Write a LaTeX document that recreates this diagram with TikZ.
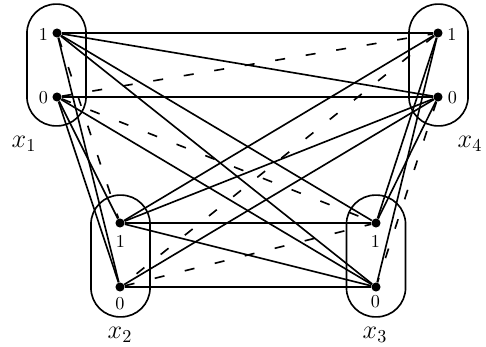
\documentclass[tikz,border=0pt]{standalone}
\begin{document}
\begin{tikzpicture}[x=0.55pt,y=-0.55pt,
  dot/.style={circle,fill,inner sep=0pt,minimum size=5pt},
  edge/.style={line width=0.9pt},
  dashedge/.style={line width=0.9pt,dash pattern=on 5.5pt off 11.5pt},
  grp/.style={draw,line width=0.9pt,rounded corners=16pt,inner sep=0pt,minimum width=32.5pt,minimum height=67pt},
  val/.style={inner sep=0pt,font=\normalsize},
  var/.style={inner sep=0pt,font=\Large}]
\useasboundingbox (0,0) rectangle (486,346);
% groups
\node[grp] (G1) at (56.5,65) {};
\node[grp] (G4) at (438.5,65) {};
\node[grp] (G2) at (120.5,256) {};
\node[grp] (G3) at (376,256) {};
% value nodes
\node[dot] (a1) at (57,33) {};
\node[dot] (a0) at (57,97) {};
\node[dot] (d1) at (438,33) {};
\node[dot] (d0) at (438,97) {};
\node[dot] (b1) at (120,223) {};
\node[dot] (b0) at (120,287) {};
\node[dot] (c1) at (376,223) {};
\node[dot] (c0) at (376,287) {};
% solid edges
\foreach \u/\v in {a1/d1,a1/d0,a0/d0,a1/b0,a0/b1,a0/b0,a1/c1,a1/c0,a0/c0,
  b1/c1,b0/c0,b1/c0,d1/b1,d0/b1,d0/b0,d1/c1,d1/c0,d0/c1}
  \draw[edge] (\u) -- (\v);
% dashed edges
\foreach \u/\v in {a0/d1,a1/b1,a0/c1,b0/c1,d1/b0,d0/c0}
  \draw[dashedge] (\u) -- (\v);
% value labels
\node[val] (la1) at (43.5,34) {1};
\node[val] (la0) at (43.5,97.5) {0};
\node[val] (ld1) at (452,34) {1};
\node[val] (ld0) at (452.5,97.5) {0};
\node[val] (lb1) at (120.5,241.5) {1};
\node[val] (lb0) at (120,304) {0};
\node[val] (lc1) at (375.5,241.5) {1};
\node[val] (lc0) at (375.5,302) {0};
% variable labels
\node[var] (x1) at (24,144) {$x_1$};
\node[var] (x4) at (470,144) {$x_4$};
\node[var] (x2) at (120,335) {$x_2$};
\node[var] (x3) at (375,335) {$x_3$};
\end{tikzpicture}
\end{document}
